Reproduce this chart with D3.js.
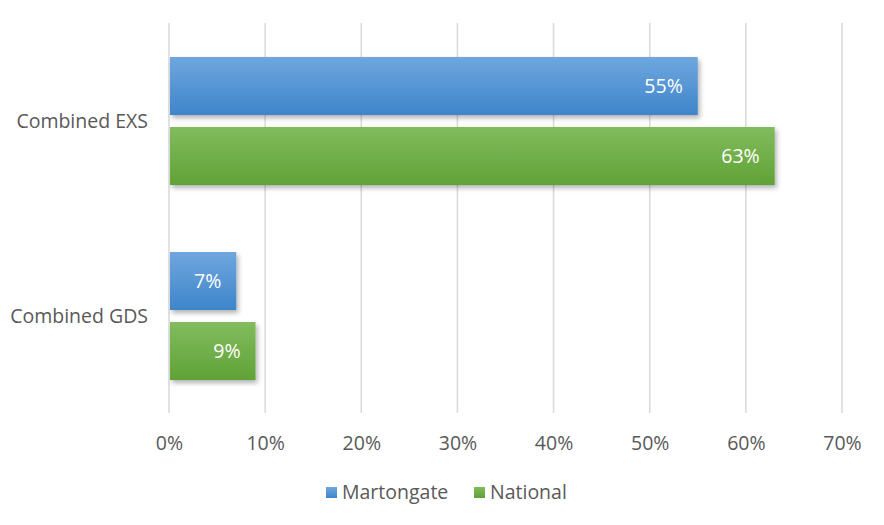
<!DOCTYPE html>
<html>
<head>
<meta charset="utf-8">
<script src="https://cdn.jsdelivr.net/npm/d3@7"></script>
<style>
  body { margin: 0; background: #fff; }
  svg { font-family: "Open Sans", "Noto Sans", sans-serif; }
</style>
</head>
<body>
<svg id="chart" width="884" height="525"></svg>
<script>
// chart data
const categories = ["Combined EXS", "Combined GDS"];
const seriesNames = ["Martongate", "National"];
const martongate = [55, 7];
const national = [63, 9];
const ticks = [0, 10, 20, 30, 40, 50, 60, 70];

const svg = d3.select("#chart");
const margin = { top: 23, right: 42, bottom: 112, left: 169 };
const width = 884 - margin.left - margin.right;
const height = 525 - margin.top - margin.bottom;
const fontSize = "19.5px";

const colors = {
  Martongate: ["#6fa7de", "#3e85cb"],
  National: ["#82bc5e", "#60a236"]
};

// gradients + shadow
const defs = svg.append("defs");
seriesNames.forEach(name => {
  const g = defs.append("linearGradient")
    .attr("id", "grad-" + name)
    .attr("x1", 0).attr("y1", 0).attr("x2", 0).attr("y2", 1);
  g.append("stop").attr("offset", "0%").attr("stop-color", colors[name][0]);
  g.append("stop").attr("offset", "100%").attr("stop-color", colors[name][1]);
});
const shadow = defs.append("filter").attr("id", "shadow")
  .attr("x", "-10%").attr("y", "-20%").attr("width", "130%").attr("height", "160%");
shadow.append("feDropShadow")
  .attr("dx", 2).attr("dy", 3).attr("stdDeviation", 2.5)
  .attr("flood-color", "#000").attr("flood-opacity", 0.3);

const chart = svg.append("g").attr("transform", `translate(${margin.left},${margin.top})`);

const x = d3.scaleLinear().domain([0, 70]).range([0, 673]);
const y0 = d3.scaleBand().domain(categories).range([0, height]);
const y1 = d3.scaleBand().domain(seriesNames)
  .range([34, 162]).paddingInner(0.1714).paddingOuter(0);

// vertical gridlines
chart.append("g")
  .selectAll("line")
  .data(ticks)
  .enter().append("line")
  .attr("x1", d => x(d)).attr("x2", d => x(d))
  .attr("y1", 0).attr("y2", height)
  .attr("stroke", "#d9d9d9")
  .attr("stroke-width", 1.5);

// x axis labels
const xAxis = d3.axisBottom(x).tickValues(ticks).tickSize(0).tickFormat(d => d + "%");
const xAxisGroup = chart.append("g")
  .attr("transform", `translate(0, ${height})`)
  .call(xAxis);
xAxisGroup.select(".domain").remove();
xAxisGroup.selectAll("text")
  .attr("dy", "0")
  .attr("y", 37)
  .style("font-size", fontSize)
  .style("fill", "#595959")
  .style("font-family", "'Open Sans', sans-serif");

// y axis labels
chart.append("g")
  .selectAll("text")
  .data(categories)
  .enter().append("text")
  .attr("x", -21)
  .attr("y", d => y0(d) + y0.bandwidth() / 2 + 7)
  .attr("text-anchor", "end")
  .style("font-size", fontSize)
  .style("fill", "#595959")
  .text(d => d);

// bars
const rows = categories.map((c, i) => ({
  category: c,
  values: [
    { series: "Martongate", value: martongate[i] },
    { series: "National", value: national[i] }
  ]
}));

const groups = chart.selectAll(".group")
  .data(rows)
  .enter().append("g")
  .attr("class", "group")
  .attr("transform", d => `translate(0, ${y0(d.category)})`);

groups.selectAll("rect")
  .data(d => d.values)
  .enter().append("rect")
  .attr("x", 1)
  .attr("y", d => y1(d.series))
  .attr("width", d => x(d.value) - 1)
  .attr("height", y1.bandwidth())
  .attr("fill", d => `url(#grad-${d.series})`)
  .attr("filter", "url(#shadow)");

groups.selectAll(".label")
  .data(d => d.values)
  .enter().append("text")
  .attr("class", "label")
  .attr("x", d => x(d.value) - 15)
  .attr("y", d => y1(d.series) + y1.bandwidth() / 2 + 7)
  .attr("text-anchor", "end")
  .style("font-size", fontSize)
  .style("fill", "#fff")
  .text(d => d.value + "%");

// legend
const legend = svg.append("g").attr("class", "legend");
const legendX = [326, 474];
seriesNames.forEach((name, i) => {
  const g = legend.append("g").attr("transform", `translate(${legendX[i]}, 492)`);
  g.append("rect")
    .attr("x", 0).attr("y", -5)
    .attr("width", 11).attr("height", 11)
    .attr("fill", `url(#grad-${name})`);
  g.append("text")
    .attr("x", 16).attr("y", 7)
    .style("font-size", fontSize)
    .style("fill", "#595959")
    .text(name);
});
</script>
</body>
</html>
